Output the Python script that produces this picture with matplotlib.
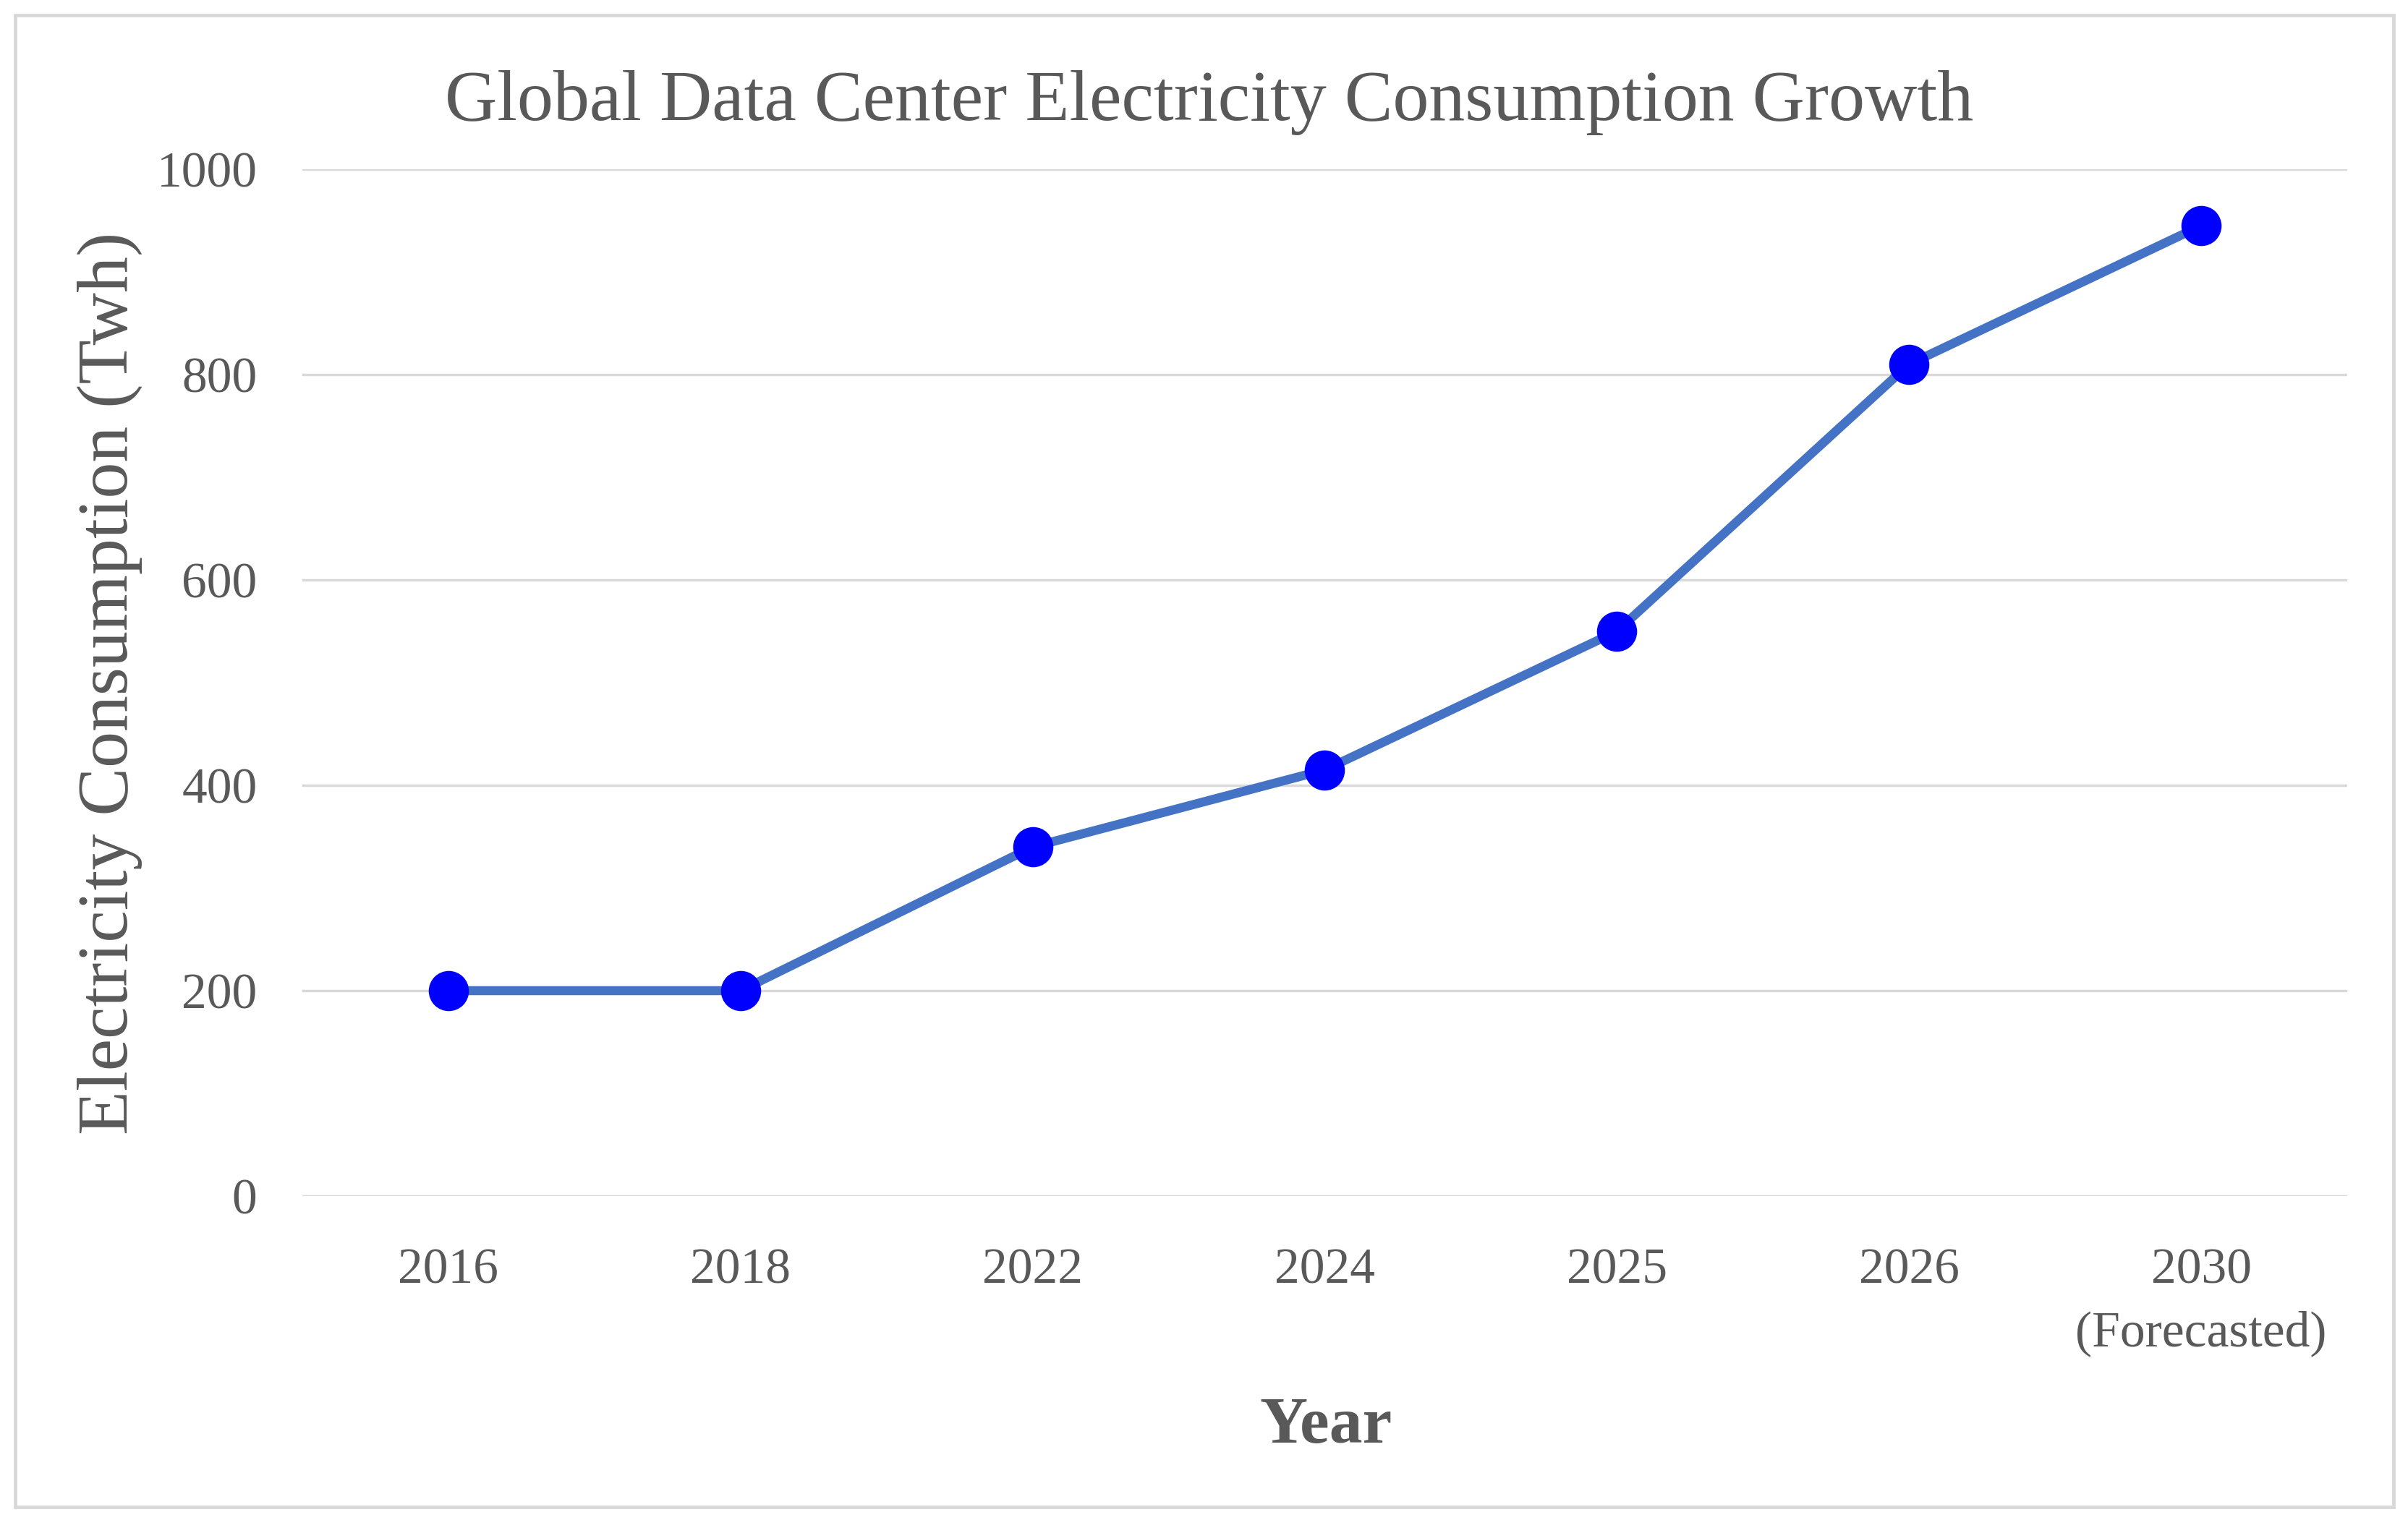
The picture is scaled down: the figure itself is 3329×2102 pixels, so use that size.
import matplotlib
matplotlib.use("Agg")
import matplotlib.pyplot as plt
from matplotlib.patches import Rectangle

years = ["2016", "2018", "2022", "2024", "2025", "2026", "2030\n(Forecasted)"]
consumption = [200, 200, 340, 415, 550, 810, 945]
yticks = [0, 200, 400, 600, 800, 1000]

title = "Global Data Center Electricity Consumption Growth"
ylabel = "Electricity Consumption (Twh)"
xlabel = "Year"

W, H = 3330, 2102
DPI = 100
plt.rcParams['font.family'] = ['Liberation Serif', 'DejaVu Serif']
TXT = "#595959"
GRID = "#D9D9D9"

fig = plt.figure(figsize=(W / DPI, H / DPI), dpi=DPI)
fig.patch.set_facecolor("white")

left, right = 418 / W, 3245 / W
bottom, top = 1 - 1654 / H, 1 - 234 / H
ax = fig.add_axes([left, bottom, right - left, top - bottom])

x = list(range(len(years)))
ax.plot(x, consumption, color="#4472C4", linewidth=9, zorder=3,
        marker="o", markersize=40, markerfacecolor="#0000FF",
        markeredgecolor="#0000FF", markeredgewidth=0)

ax.set_xlim(-0.5, len(years) - 0.5)
ax.set_ylim(0, 1000)
ax.set_yticks(yticks)
ax.set_xticks(x)
ax.set_xticklabels(years, linespacing=1.45)
ax.yaxis.grid(True, color=GRID, linewidth=2.5)
ax.xaxis.grid(False)
ax.set_axisbelow(True)
for s in ax.spines.values():
    s.set_visible(False)
ax.tick_params(axis="both", length=0, labelsize=50, colors=TXT)
ax.tick_params(axis="y", pad=45)
ax.tick_params(axis="x", pad=52)

fig.text(1672 / W, 1 - 142 / H, title, ha="center", va="center",
         fontsize=72, color=TXT)
fig.text(152 / W, 1 - 945 / H, ylabel, ha="center", va="center",
         rotation=90, fontsize=72, color=TXT)
fig.text(1833 / W, 1 - 1973 / H, xlabel, ha="center", va="center",
         fontsize=66, fontweight="bold", color=TXT)

fig.patches.append(Rectangle((21 / W, 1 - 2084 / H), (3309 - 21) / W, (2084 - 21) / H,
                             transform=fig.transFigure, fill=False,
                             edgecolor=GRID, linewidth=3.5))

fig.savefig("out.png", dpi=DPI, facecolor="white")
